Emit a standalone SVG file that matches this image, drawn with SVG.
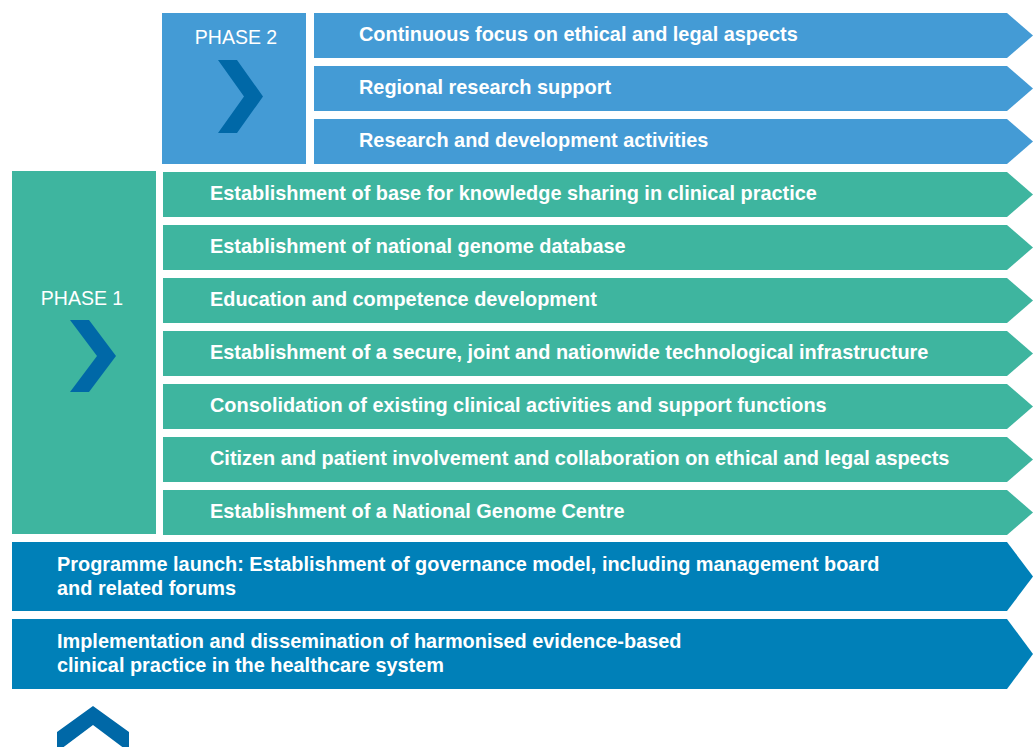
<svg xmlns="http://www.w3.org/2000/svg" width="1034" height="747" viewBox="0 0 1034 747">
  <style>
    .p2 { fill: #449bd5; }
    .p1 { fill: #3eb59f; }
    .base { fill: #0080b8; }
    .chev { fill: #0068a7; }
    .phase { font-family: "Liberation Sans", Arial, sans-serif; font-size: 19.5px; fill: #ffffff; text-anchor: middle; }
    .lbl { font-family: "Liberation Sans", Arial, sans-serif; font-size: 19.9px; font-weight: bold; fill: #ffffff; }
  </style>
  <rect width="1034" height="747" fill="#ffffff"/>

  <!-- Phase 2 column -->
  <g id="phase2">
    <rect class="p2" x="162" y="13" width="144" height="151"/>
    <text class="phase" x="236" y="44">PHASE 2</text>
    <polygon class="chev" points="218,60 237,60 263,96.5 237,133 218,133 244,96.5"/>
  </g>
  <g id="p2-ethics">
    <polygon class="p2" points="314,13 1007,13 1033,35.5 1007,58 314,58"/>
    <text class="lbl" x="359" y="41">Continuous focus on ethical and legal aspects</text>
  </g>
  <g id="p2-regional">
    <polygon class="p2" points="314,66 1007,66 1033,88.5 1007,111 314,111"/>
    <text class="lbl" x="359" y="94">Regional research support</text>
  </g>
  <g id="p2-research">
    <polygon class="p2" points="314,119 1007,119 1033,141.5 1007,164 314,164"/>
    <text class="lbl" x="359" y="147">Research and development activities</text>
  </g>

  <!-- Phase 1 column -->
  <g id="phase1">
    <rect class="p1" x="12" y="171" width="144" height="363"/>
    <text class="phase" x="82" y="305">PHASE 1</text>
    <polygon class="chev" points="70,320 89,320 116,356 89,392 70,392 97,356"/>
  </g>
  <g id="p1-knowledge">
    <polygon class="p1" points="163,172 1007,172 1033,194.5 1007,217 163,217"/>
    <text class="lbl" x="210" y="200">Establishment of base for knowledge sharing in clinical practice</text>
  </g>
  <g id="p1-database">
    <polygon class="p1" points="163,225 1007,225 1033,247.5 1007,270 163,270"/>
    <text class="lbl" x="210" y="253">Establishment of national genome database</text>
  </g>
  <g id="p1-education">
    <polygon class="p1" points="163,278 1007,278 1033,300.5 1007,323 163,323"/>
    <text class="lbl" x="210" y="306">Education and competence development</text>
  </g>
  <g id="p1-infrastructure">
    <polygon class="p1" points="163,331 1007,331 1033,353.5 1007,376 163,376"/>
    <text class="lbl" x="210" y="359">Establishment of a secure, joint and nationwide technological infrastructure</text>
  </g>
  <g id="p1-consolidation">
    <polygon class="p1" points="163,384 1007,384 1033,406.5 1007,429 163,429"/>
    <text class="lbl" x="210" y="412">Consolidation of existing clinical activities and support functions</text>
  </g>
  <g id="p1-involvement">
    <polygon class="p1" points="163,437 1007,437 1033,459.5 1007,482 163,482"/>
    <text class="lbl" x="210" y="465">Citizen and patient involvement and collaboration on ethical and legal aspects</text>
  </g>
  <g id="p1-centre">
    <polygon class="p1" points="163,490 1007,490 1033,512.5 1007,535 163,535"/>
    <text class="lbl" x="210" y="518">Establishment of a National Genome Centre</text>
  </g>

  <!-- Foundation bars -->
  <g id="launch">
    <polygon class="base" points="12,542 1007,542 1033,576.5 1007,611 12,611"/>
    <text class="lbl" x="57" y="571">Programme launch: Establishment of governance model, including management board</text>
    <text class="lbl" x="57" y="595">and related forums</text>
  </g>
  <g id="implementation">
    <polygon class="base" points="12,619 1007,619 1033,654 1007,689 12,689"/>
    <text class="lbl" x="57" y="648">Implementation and dissemination of harmonised evidence-based</text>
    <text class="lbl" x="57" y="672">clinical practice in the healthcare system</text>
  </g>

  <!-- Upward chevron at the foot -->
  <g id="up-chevron">
    <polygon class="chev" points="93,706 129,732 129,752 93,725 57,752 57,732"/>
  </g>
</svg>
